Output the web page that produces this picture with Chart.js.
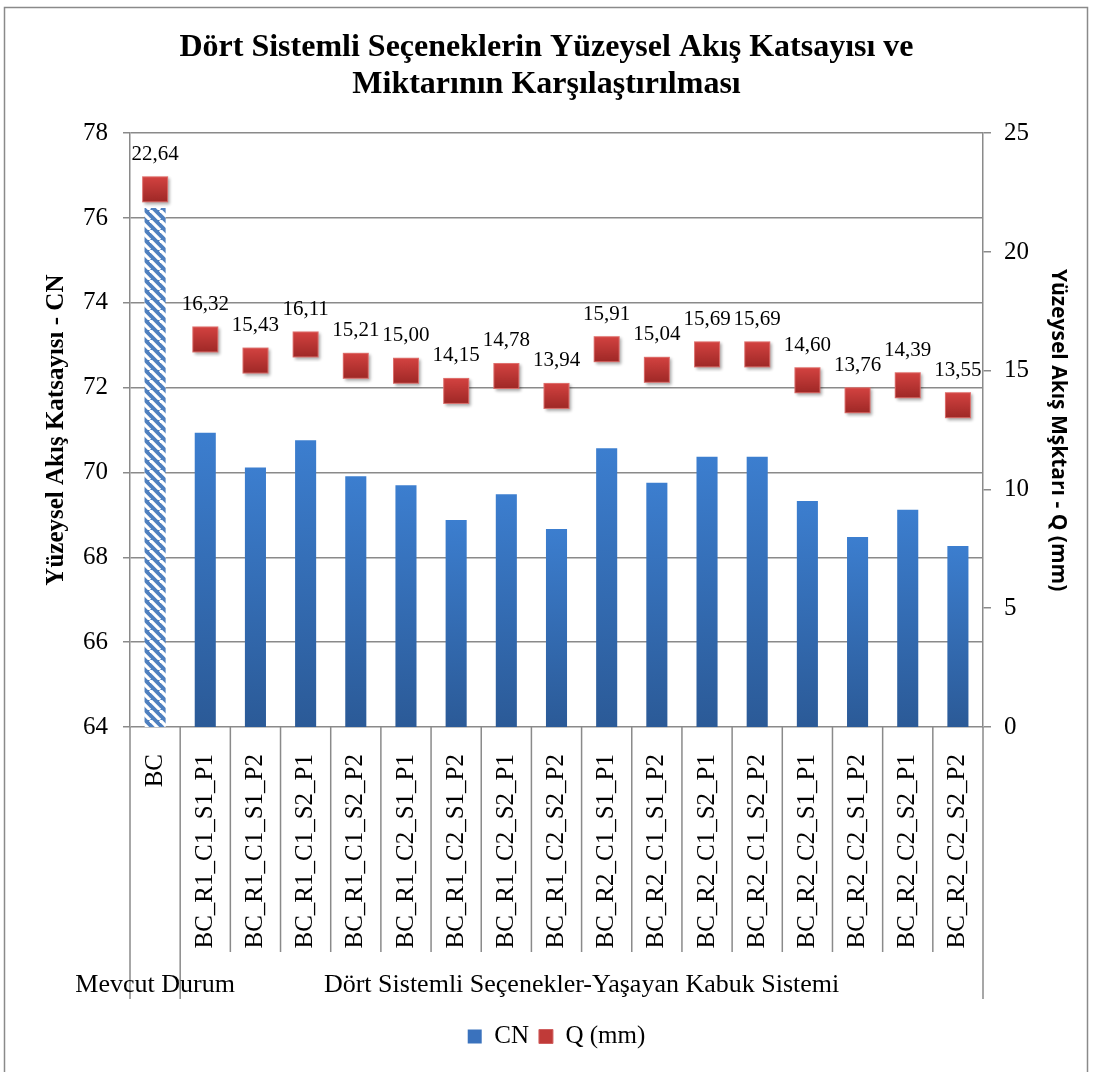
<!DOCTYPE html>
<html><head><meta charset="utf-8">
<script src="https://cdn.jsdelivr.net/npm/chart.js@4/dist/chart.umd.min.js"></script>
<style>html,body{margin:0;padding:0;background:#fff;}</style>
</head><body>
<canvas id="c" width="1093" height="1072" style="display:block;width:1093px;height:1072px"></canvas>
<script>
const categories = ['BC','BC_R1_C1_S1_P1','BC_R1_C1_S1_P2','BC_R1_C1_S2_P1','BC_R1_C1_S2_P2','BC_R1_C2_S1_P1','BC_R1_C2_S1_P2','BC_R1_C2_S2_P1','BC_R1_C2_S2_P2','BC_R2_C1_S1_P1','BC_R2_C1_S1_P2','BC_R2_C1_S2_P1','BC_R2_C1_S2_P2','BC_R2_C2_S1_P1','BC_R2_C2_S1_P2','BC_R2_C2_S2_P1','BC_R2_C2_S2_P2'];
const cnValues = [76.24,70.94,70.12,70.76,69.91,69.70,68.88,69.49,68.67,70.57,69.76,70.37,70.37,69.33,68.48,69.12,68.27];
const qValues = [22.64,16.32,15.43,16.11,15.21,15.00,14.15,14.78,13.94,15.91,15.04,15.69,15.69,14.60,13.76,14.39,13.55];
const groupLabels = ['Mevcut Durum','Dört Sistemli Seçenekler-Yaşayan Kabuk Sistemi'];
const groupSizes = [1,16];
const seriesNames = ['CN','Q (mm)'];
const titleLines = ['Dört Sistemli Seçeneklerin Yüzeysel Akış Katsayısı ve','Miktarının Karşılaştırılması'];
const leftTitle = 'Yüzeysel Akış Katsayısı - CN';
const rightTitle = 'Yüzeysel Akış Mşktarı - Q (mm)';

const SERIF = '"Liberation Serif", "Times New Roman", serif';
const GRID = '#8a8a8a';

// hatch pattern for the existing-state bar
function makeHatch(){
  const s = 10, cv = document.createElement('canvas'); cv.width = s; cv.height = s;
  const g = cv.getContext('2d');
  g.fillStyle = '#4f80bf'; g.fillRect(0,0,s,s);
  g.strokeStyle = '#ffffff'; g.lineWidth = 3.2;
  for (const o of [-s,0,s]) { g.beginPath(); g.moveTo(o,0); g.lineTo(o+s,s); g.stroke(); }
  return g.createPattern(cv,'repeat');
}
function makeMarker(){
  const S = 36, cv = document.createElement('canvas'); cv.width = S; cv.height = S;
  const g = cv.getContext('2d');
  const a = 5, w = 26;
  g.shadowColor = 'rgba(0,0,0,0.35)'; g.shadowBlur = 3; g.shadowOffsetX = 1.5; g.shadowOffsetY = 2;
  const gr = g.createLinearGradient(0,a,0,a+w);
  gr.addColorStop(0,'#d44341'); gr.addColorStop(1,'#9e2826');
  g.fillStyle = gr; g.fillRect(a,a,w,w);
  g.shadowColor = 'transparent';
  g.strokeStyle = 'rgba(225,120,118,0.85)'; g.lineWidth = 1; g.strokeRect(a+0.5,a+0.5,w-1,w-1);
  return cv;
}
const hatch = makeHatch();
const marker = makeMarker();

function barFill(ctx){
  if (ctx.dataIndex === 0) return hatch;
  const ch = ctx.chart, ca = ch.chartArea;
  if (!ca || !ch.scales.y) return '#3a7bcb';
  const top = ch.scales.y.getPixelForValue(cnValues[ctx.dataIndex]);
  const gr = ch.ctx.createLinearGradient(0, top, 0, ca.bottom);
  gr.addColorStop(0,'#3c7ecf'); gr.addColorStop(1,'#2b5a97');
  return gr;
}

const framePlugin = {
  id:'frame',
  beforeDraw(chart){
    const c = chart.ctx; c.save();
    c.fillStyle = '#fff'; c.fillRect(0,0,chart.width,chart.height);
    c.strokeStyle = GRID; c.lineWidth = 1.5;
    c.strokeRect(4.5,7.5,1083,1080);
    c.restore();
  }
};
const qLabelPlugin = {
  id:'qLabels',
  afterDatasetsDraw(chart){
    const meta = chart.getDatasetMeta(1), c = chart.ctx;
    c.save(); c.font = '21px ' + SERIF; c.fillStyle = '#000';
    c.textAlign = 'center'; c.textBaseline = 'middle';
    meta.data.forEach((pt,i)=>{ c.fillText(qValues[i].toFixed(2).replace('.',','), pt.x, pt.y - 35); });
    c.restore();
  }
};
const axisGroupPlugin = {
  id:'axisGroups',
  afterDraw(chart){
    const x = chart.scales.x, c = chart.ctx, n = categories.length;
    const half = (x.getPixelForValue(1) - x.getPixelForValue(0)) / 2;
    const bx = i => x.getPixelForValue(0) - half + i * 2 * half;
    const bounds = [0]; groupSizes.forEach(s => bounds.push(bounds[bounds.length-1] + s));
    c.save(); c.strokeStyle = GRID; c.lineWidth = 1.5;
    for (let i = 0; i <= n; i++) {
      const isGroup = bounds.includes(i);
      c.beginPath(); c.moveTo(bx(i), x.top); c.lineTo(bx(i), x.top + (isGroup ? 272 : 225)); c.stroke();
    }
    c.font = '26px ' + SERIF; c.fillStyle = '#000'; c.textAlign = 'center'; c.textBaseline = 'middle';
    groupLabels.forEach((g,k)=>{ c.fillText(g, (bx(bounds[k]) + bx(bounds[k+1])) / 2, x.top + 258); });
    c.restore();
  }
};

new Chart(document.getElementById('c'), {
  data: {
    labels: categories,
    datasets: [
      { type:'bar', label: seriesNames[0], data: cnValues, yAxisID:'y', backgroundColor: barFill,
        categoryPercentage: 1, barPercentage: 0.42, order: 2 },
      { type:'line', label: seriesNames[1], data: qValues, yAxisID:'y1', showLine:false,
        pointStyle: marker, pointRadius: 13, backgroundColor:'#bf3533', borderColor:'#bf3533', order: 1 }
    ]
  },
  options: {
    responsive:false, devicePixelRatio:1, animation:false,
    layout:{ padding:{ left:10, right:10, top:0, bottom:13 } },
    plugins:{
      title:{ display:true, text:titleLines, color:'#000', font:{ family:SERIF, size:32, weight:'bold', lineHeight:1.16 },
        padding:{ top:29, bottom:30 } },
      legend:{ position:'bottom', fullSize:false,
        labels:{ color:'#000', font:{ family:SERIF, size:25 }, boxWidth:14, boxHeight:14, padding:10,
          generateLabels(chart){ return [
            { text:seriesNames[0], fillStyle:'#3a72bd', strokeStyle:'#3a72bd', lineWidth:0, datasetIndex:0 },
            { text:seriesNames[1], fillStyle:'#c03a38', strokeStyle:'#d06060', lineWidth:1, datasetIndex:1 } ]; } } },
      tooltip:{ enabled:false }
    },
    scales:{
      x:{ type:'category', offset:true,
        grid:{ display:false }, border:{ display:false },
        ticks:{ autoSkip:false, minRotation:90, maxRotation:90, padding:19, color:'#000', font:{ family:SERIF, size:25 } },
        afterFit(s){ s.height = 287; } },
      y:{ position:'left', min:64, max:78,
        ticks:{ stepSize:2, color:'#000', padding:15, font:{ family:SERIF, size:25 } },
        grid:{ color:GRID, lineWidth:1.5, tickLength:7 }, border:{ color:GRID, width:1.5 },
        title:{ display:true, text:leftTitle, color:'#000', padding:{ top:32, bottom:0 }, font:{ family:SERIF, size:25, weight:'bold' } },
        afterFit(s){ s.width = 120; } },
      y1:{ position:'right', min:0, max:25,
        ticks:{ stepSize:5, color:'#000', padding:13, font:{ family:SERIF, size:25 } },
        grid:{ drawOnChartArea:false, color:GRID, lineWidth:1.5, tickLength:8 }, border:{ color:GRID, width:1.5 },
        title:{ display:true, text:rightTitle, color:'#000', padding:{ top:12, bottom:0 }, font:{ family:'"Open Sans", sans-serif', size:21, weight:'bold' } },
        afterFit(s){ s.width = 100; } }
    }
  },
  plugins:[framePlugin, qLabelPlugin, axisGroupPlugin]
});
</script>
</body></html>
